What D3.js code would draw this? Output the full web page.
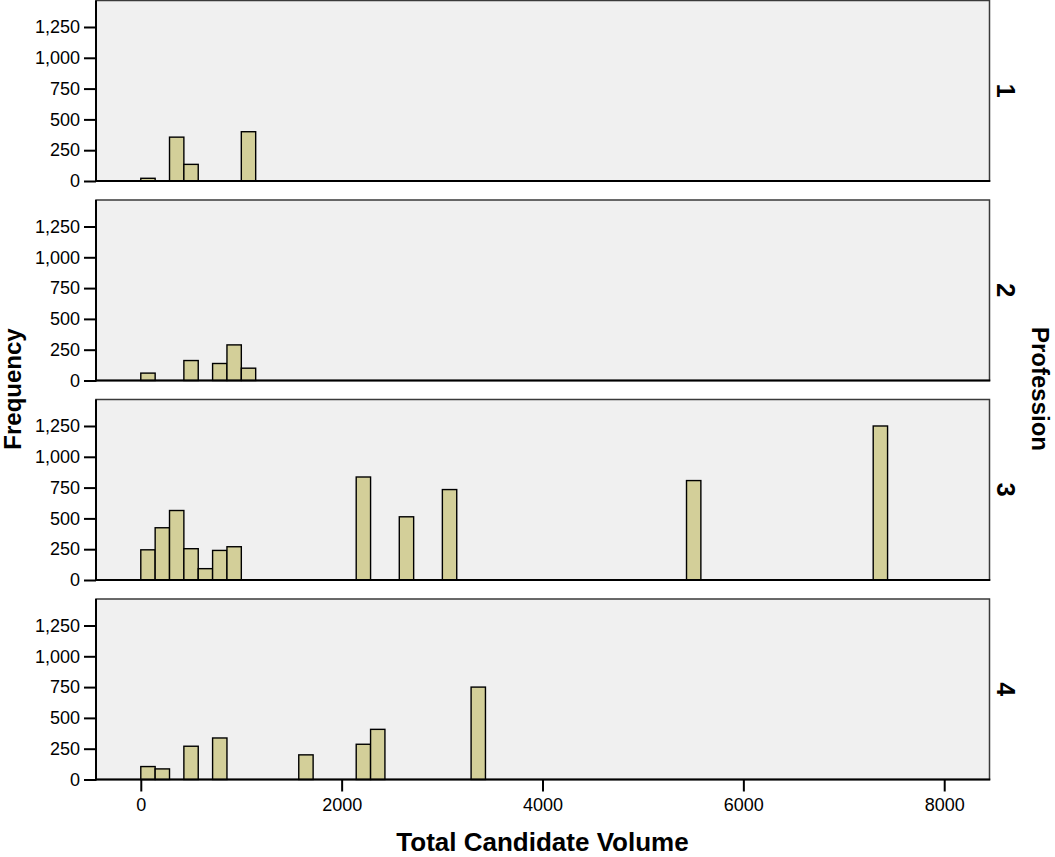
<!DOCTYPE html>
<html>
<head>
<meta charset="utf-8">
<script src="https://cdn.jsdelivr.net/npm/d3@7"></script>
<style>
  body { margin: 0; background: #fff; }
  text { font-family: "Liberation Sans", Arial, sans-serif; fill: #000; }
</style>
</head>
<body>
<div id="chart"></div>
<script>
const width = 1055;
const height = 857;

// histogram bin width (Total Candidate Volume)
const binWidth = 143;

// panels (Profession)
const professions = ["1", "2", "3", "4"];

// bin lower edges and frequencies per profession
const binStarts1 = [0, 286, 429, 1001];
const counts1 = [22, 356, 135, 400];

const binStarts2 = [0, 429, 715, 858, 1001];
const counts2 = [60, 162, 138, 289, 100];

const binStarts3 = [0, 143, 286, 429, 572, 715, 858, 2145, 2574, 3003, 5434, 7293];
const counts3 = [245, 424, 564, 254, 92, 240, 270, 836, 513, 734, 807, 1250];

const binStarts4 = [0, 143, 429, 715, 1573, 2145, 2288, 3289];
const counts4 = [105, 86, 270, 337, 200, 286, 407, 750];

const xTicks = [0, 2000, 4000, 6000, 8000];
const yTicks = [0, 250, 500, 750, 1000, 1250];

const panelData = [
  d3.zip(binStarts1, counts1),
  d3.zip(binStarts2, counts2),
  d3.zip(binStarts3, counts3),
  d3.zip(binStarts4, counts4)
];

const left = 96, right = 989.5;
const panelTop = 0.5, panelStep = 199.5, panelH = 180.5;

const svg = d3.select("#chart")
  .append("svg")
  .attr("width", width)
  .attr("height", height);

const x = d3.scaleLinear().domain([-446, 8451]).range([left, right]);
const y = d3.scaleLinear().domain([0, 1465]).range([panelH, 0]);

const fmt = d3.format(",");
const tickFont = "18px";

professions.forEach((p, i) => {
  const g = svg.append("g")
    .attr("transform", `translate(0,${panelTop + i * panelStep})`);

  // panel background + frame
  g.append("rect")
    .attr("x", left)
    .attr("y", 0)
    .attr("width", right - left)
    .attr("height", panelH)
    .attr("fill", "#f0f0f0")
    .attr("stroke", "#3a3a3a")
    .attr("stroke-width", 1.5);

  // bars
  g.selectAll("rect.bar")
    .data(panelData[i])
    .enter()
    .append("rect")
    .attr("class", "bar")
    .attr("x", d => x(d[0]))
    .attr("y", d => y(d[1]))
    .attr("width", d => x(d[0] + binWidth) - x(d[0]))
    .attr("height", d => y(0) - y(d[1]))
    .attr("fill", "#d3cf99")
    .attr("stroke", "#000")
    .attr("stroke-width", 1.4);

  // y axis
  const yAxis = g.append("g")
    .attr("transform", `translate(${left},0)`)
    .call(d3.axisLeft(y).tickValues(yTicks).tickFormat(fmt).tickSize(12).tickPadding(4));
  yAxis.select(".domain").remove();
  yAxis.selectAll(".tick line").attr("stroke", "#000").attr("stroke-width", 2);
  yAxis.selectAll(".tick text")
    .style("font-size", tickFont)
    .style("font-family", "'Liberation Sans', Arial, sans-serif");

  // left and bottom axis lines
  g.append("line")
    .attr("x1", left).attr("x2", left)
    .attr("y1", 0).attr("y2", panelH + 1)
    .attr("stroke", "#000").attr("stroke-width", 2);
  g.append("line")
    .attr("x1", left).attr("x2", right + 0.75)
    .attr("y1", panelH).attr("y2", panelH)
    .attr("stroke", "#000").attr("stroke-width", 2);

  // profession label on the right
  g.append("text")
    .attr("transform", `translate(997,${panelH / 2}) rotate(90)`)
    .attr("text-anchor", "middle")
    .style("font-size", "25px")
    .style("font-weight", "bold")
    .text(p);

  // x axis on the last panel only
  if (i === professions.length - 1) {
    const xAxis = g.append("g")
      .attr("transform", `translate(0,${panelH})`)
      .call(d3.axisBottom(x).tickValues(xTicks).tickFormat(d3.format("d")).tickSize(12).tickPadding(7));
    xAxis.select(".domain").remove();
    xAxis.selectAll(".tick line").attr("stroke", "#000").attr("stroke-width", 2);
    xAxis.selectAll(".tick text")
      .style("font-size", tickFont)
      .style("font-family", "'Liberation Sans', Arial, sans-serif");
  }
});

// axis titles
svg.append("text")
  .attr("x", x(4000))
  .attr("y", 851)
  .attr("text-anchor", "middle")
  .style("font-size", "26px")
  .style("font-weight", "bold")
  .text("Total Candidate Volume");

svg.append("text")
  .attr("transform", "translate(21,389) rotate(-90)")
  .attr("text-anchor", "middle")
  .style("font-size", "24px")
  .style("font-weight", "bold")
  .text("Frequency");

svg.append("text")
  .attr("transform", "translate(1032,389) rotate(90)")
  .attr("text-anchor", "middle")
  .style("font-size", "24px")
  .style("font-weight", "bold")
  .text("Profession");
</script>
</body>
</html>
